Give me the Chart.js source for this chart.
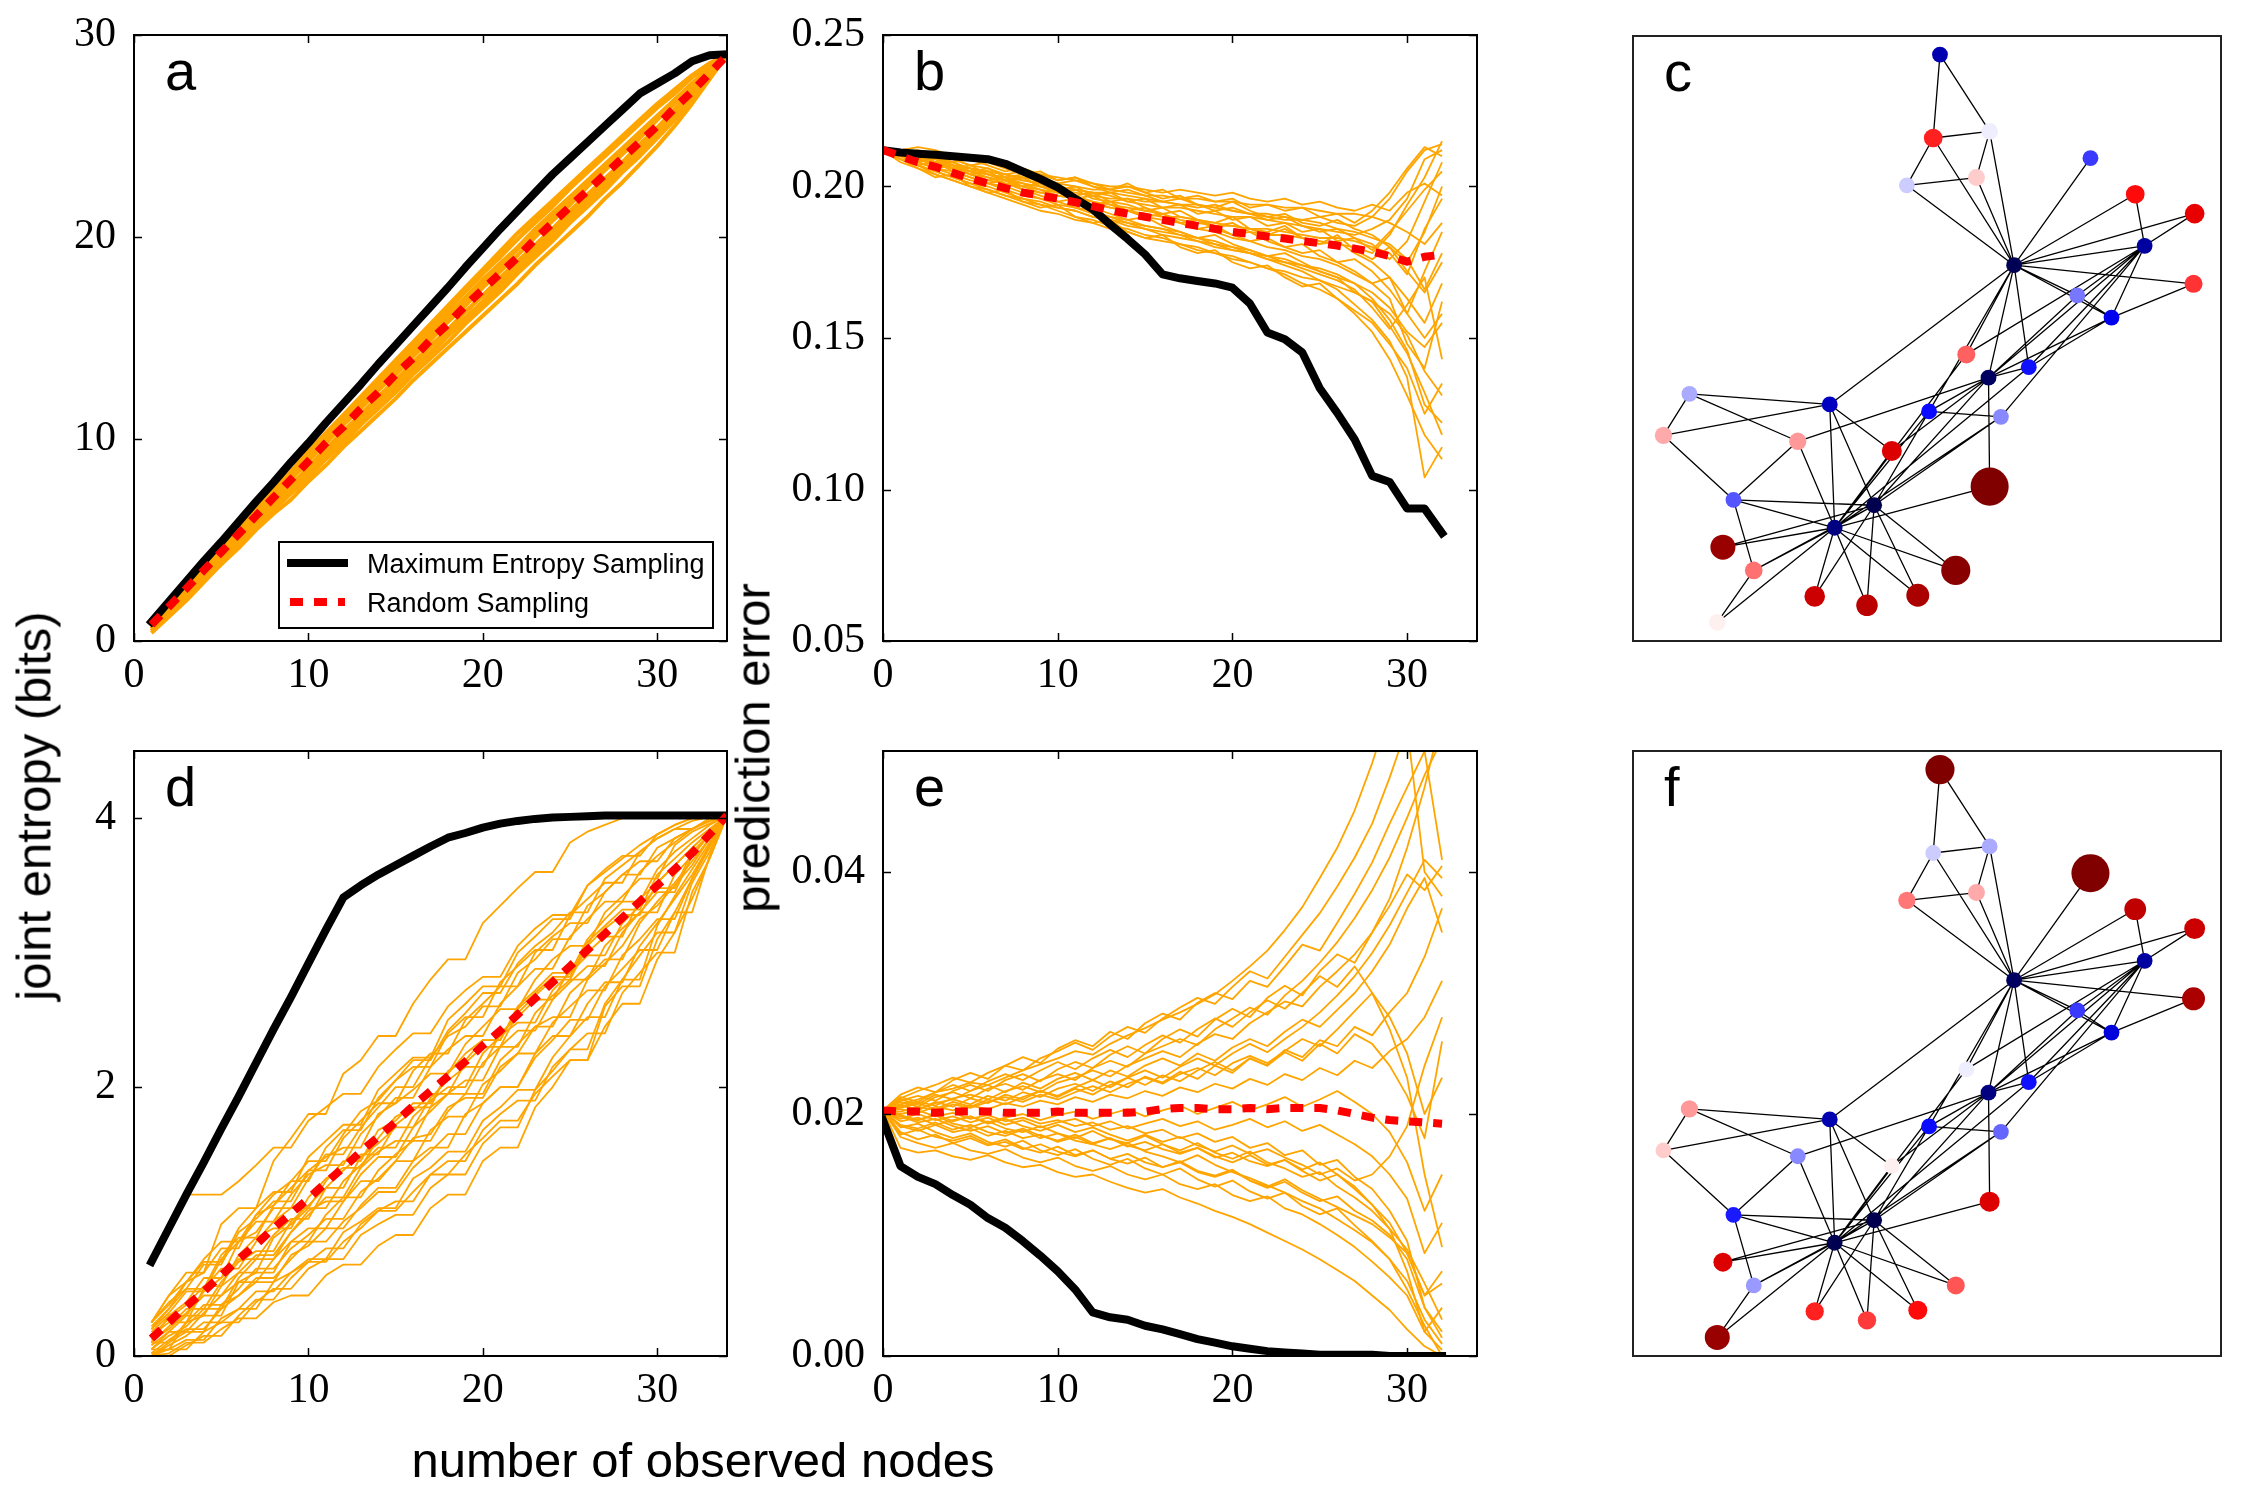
<!DOCTYPE html>
<html>
<head>
<meta charset="utf-8">
<script src="https://cdn.jsdelivr.net/npm/chart.js@4.4.1/dist/chart.umd.min.js"></script>
<style>
  body { margin: 0; background: #fff; }
  #fig { position: relative; width: 2242px; height: 1504px; overflow: hidden; background: #fff; }
  canvas { position: absolute; }
  .lab { position: absolute; font-family: "Liberation Sans", Arial, sans-serif; font-size: 49px; line-height: 49px; white-space: nowrap; color: #000; }
  .rot { transform: translate(-50%, -50%) rotate(-90deg); }
</style>
</head>
<body>
<div id="fig">
  <canvas id="chartA"></canvas>
  <canvas id="chartB"></canvas>
  <canvas id="chartC"></canvas>
  <canvas id="chartD"></canvas>
  <canvas id="chartE"></canvas>
  <canvas id="chartF"></canvas>
  <div class="lab rot" style="left:34px; top:806px;">joint entropy (bits)</div>
  <div class="lab rot" style="left:753px; top:748px;">prediction error</div>
  <div class="lab" style="left:703px; top:1436px; transform: translateX(-50%);">number of observed nodes</div>
</div>
<script>
// ---- data ----
const seriesNames = ["Maximum Entropy Sampling", "Random Sampling"];

const xTicks = [0, 10, 20, 30];
const yTicksA = [0, 10, 20, 30];
const yTicksB = [0.05, 0.10, 0.15, 0.20, 0.25];
const yTicksD = [0, 2, 4];
const yTicksE = [0.00, 0.02, 0.04];

// observed nodes for entropy panels (a, d) and error panels (b, e)
const nodesEntropy = [1,2,3,4,5,6,7,8,9,10,11,12,13,14,15,16,17,18,19,20,21,22,23,24,25,26,27,28,29,30,31,32,33,34];
const nodesError = [0,1,2,3,4,5,6,7,8,9,10,11,12,13,14,15,16,17,18,19,20,21,22,23,24,25,26,27,28,29,30,31,32];

// panel a
const maxEntA = [0.95,1.95,2.95,3.95,4.9,5.9,6.9,7.85,8.85,9.8,10.8,11.75,12.7,13.7,14.65,15.6,16.55,17.5,18.5,19.45,20.4,21.3,22.2,23.1,23.9,24.7,25.5,26.3,27.1,27.6,28.1,28.7,29.0,29.05];
const randMeanA = [0.8,1.7,2.6,3.5,4.4,5.3,6.2,7.1,8.0,8.9,9.8,10.6,11.5,12.3,13.2,14.0,14.9,15.7,16.6,17.4,18.2,19.0,19.9,20.7,21.5,22.3,23.1,23.9,24.7,25.5,26.4,27.2,28.1,29.0];
const randRunsA = [
  [0.9,1.9,2.8,3.8,4.7,5.6,6.6,7.5,8.4,9.4,10.3,11.2,12.1,13.0,13.9,14.8,15.7,16.6,17.5,18.4,19.3,20.2,21.0,21.8,22.6,23.4,24.2,25.0,25.8,26.6,27.3,28.0,28.6,29.0],
  [0.5,1.3,2.1,3.0,3.8,4.6,5.5,6.3,7.0,7.9,8.7,9.6,10.4,11.2,12.0,12.9,13.7,14.5,15.3,16.1,16.9,17.7,18.6,19.4,20.2,21.0,21.9,22.7,23.6,24.5,25.5,26.6,27.8,29.0],
  [0.7,1.6,2.5,3.4,4.3,5.3,6.2,7.1,8.0,8.9,9.8,10.7,11.5,12.4,13.2,14.1,14.9,15.8,16.6,17.5,18.3,19.1,20.0,20.8,21.6,22.5,23.3,24.1,24.9,25.8,26.6,27.4,28.2,29.0],
  [0.8,1.7,2.7,3.6,4.5,5.4,6.4,7.3,8.2,9.1,10.0,10.9,11.8,12.7,13.6,14.4,15.3,16.2,17.0,17.9,18.7,19.5,20.4,21.2,22.0,22.8,23.6,24.4,25.2,26.0,26.8,27.6,28.3,29.0],
  [0.6,1.4,2.3,3.2,4.0,4.9,5.8,6.7,7.5,8.4,9.3,10.1,11.0,11.8,12.7,13.5,14.3,15.2,16.0,16.8,17.6,18.5,19.3,20.1,21.0,21.8,22.6,23.5,24.3,25.2,26.1,27.0,28.0,29.0],
  [0.9,1.8,2.6,3.5,4.5,5.4,6.3,7.2,8.1,9.0,9.9,10.8,11.7,12.6,13.5,14.3,15.2,16.1,17.0,17.8,18.6,19.4,20.3,21.1,21.9,22.7,23.5,24.3,25.1,25.9,26.8,27.6,28.4,29.0],
  [0.4,1.2,2.0,2.9,3.8,4.7,5.6,6.5,7.4,8.2,9.1,10.0,10.8,11.7,12.5,13.4,14.2,15.1,15.9,16.7,17.5,18.4,19.2,20.0,20.8,21.6,22.5,23.3,24.1,25.0,25.9,26.9,27.9,29.0],
  [0.8,1.8,2.7,3.7,4.6,5.5,6.5,7.4,8.3,9.2,10.1,11.0,11.9,12.8,13.7,14.6,15.5,16.4,17.3,18.2,19.0,19.9,20.7,21.5,22.4,23.2,24.0,24.8,25.6,26.4,27.1,27.9,28.5,29.0],
  [0.6,1.5,2.4,3.3,4.2,5.1,6.0,6.9,7.7,8.6,9.5,10.4,11.2,12.1,12.9,13.8,14.6,15.4,16.3,17.1,18.0,18.8,19.6,20.4,21.3,22.1,22.9,23.7,24.6,25.4,26.3,27.2,28.1,29.0],
  [0.7,1.5,2.4,3.3,4.1,5.0,5.9,6.8,7.7,8.6,9.5,10.3,11.2,12.0,12.9,13.7,14.6,15.4,16.3,17.1,17.9,18.7,19.6,20.4,21.2,22.0,22.8,23.6,24.5,25.3,26.2,27.1,28.0,29.0],
  [0.5,1.4,2.2,3.1,4.0,4.8,5.7,6.6,7.4,8.3,9.2,10.0,10.9,11.7,12.6,13.4,14.3,15.1,16.0,16.8,17.7,18.5,19.4,20.2,21.1,21.9,22.8,23.6,24.5,25.4,26.3,27.2,28.1,29.0],
  [0.9,1.8,2.8,3.7,4.6,5.5,6.5,7.4,8.3,9.3,10.2,11.1,12.0,12.9,13.8,14.7,15.6,16.5,17.3,18.2,19.1,19.9,20.8,21.6,22.5,23.3,24.1,24.9,25.7,26.5,27.3,28.0,28.6,29.0],
  [0.6,1.4,2.3,3.1,4.0,4.8,5.6,6.5,7.3,8.1,9.0,9.8,10.7,11.5,12.3,13.2,14.0,14.8,15.7,16.5,17.3,18.2,19.0,19.8,20.7,21.5,22.3,23.2,24.0,24.9,25.8,26.8,27.9,29.0],
  [0.8,1.7,2.6,3.5,4.4,5.3,6.2,7.2,8.1,9.0,9.9,10.8,11.6,12.5,13.4,14.2,15.1,16.0,16.8,17.7,18.5,19.4,20.2,21.0,21.8,22.7,23.5,24.3,25.1,25.9,26.7,27.5,28.3,29.0]
];

// panel b
const maxEntB = [0.212,0.2112,0.2108,0.2105,0.210,0.2095,0.209,0.2075,0.205,0.2025,0.1997,0.196,0.1925,0.1875,0.1827,0.1776,0.171,0.1697,0.1688,0.168,0.1666,0.1614,0.1518,0.1496,0.1452,0.1334,0.1253,0.1165,0.1045,0.1025,0.0937,0.0937,0.0856];
const randMeanB = [0.212,0.210,0.208,0.2065,0.2045,0.2026,0.201,0.1995,0.198,0.197,0.196,0.1948,0.1935,0.1922,0.191,0.190,0.189,0.188,0.187,0.186,0.185,0.1843,0.1835,0.1828,0.182,0.1813,0.1805,0.1795,0.1785,0.177,0.1752,0.1768,0.1775];
const randRunsB = [
  [0.212,0.211,0.210,0.208,0.207,0.205,0.204,0.203,0.201,0.200,0.199,0.198,0.197,0.196,0.196,0.195,0.195,0.194,0.193,0.194,0.192,0.191,0.191,0.190,0.189,0.190,0.188,0.187,0.190,0.196,0.205,0.212,0.214],
  [0.212,0.209,0.207,0.205,0.203,0.201,0.199,0.197,0.195,0.194,0.192,0.190,0.189,0.187,0.186,0.184,0.183,0.181,0.180,0.178,0.176,0.175,0.173,0.171,0.168,0.166,0.163,0.158,0.152,0.143,0.131,0.118,0.110],
  [0.212,0.212,0.213,0.212,0.210,0.209,0.208,0.206,0.205,0.204,0.203,0.202,0.201,0.200,0.200,0.199,0.198,0.199,0.198,0.197,0.198,0.196,0.195,0.196,0.194,0.195,0.193,0.192,0.194,0.192,0.198,0.201,0.197],
  [0.212,0.210,0.208,0.206,0.205,0.203,0.201,0.200,0.198,0.196,0.195,0.193,0.192,0.190,0.189,0.187,0.186,0.185,0.183,0.182,0.180,0.179,0.177,0.176,0.174,0.172,0.170,0.168,0.165,0.160,0.152,0.147,0.155],
  [0.212,0.211,0.209,0.207,0.206,0.204,0.202,0.201,0.199,0.198,0.197,0.196,0.195,0.193,0.192,0.191,0.190,0.190,0.189,0.188,0.187,0.186,0.186,0.185,0.184,0.183,0.183,0.182,0.180,0.178,0.171,0.186,0.196],
  [0.212,0.210,0.207,0.205,0.203,0.201,0.200,0.198,0.196,0.195,0.193,0.192,0.190,0.189,0.188,0.186,0.185,0.184,0.182,0.181,0.179,0.178,0.177,0.175,0.174,0.173,0.171,0.168,0.163,0.156,0.146,0.128,0.122],
  [0.212,0.211,0.210,0.209,0.207,0.206,0.205,0.204,0.202,0.201,0.200,0.199,0.198,0.198,0.197,0.196,0.195,0.194,0.194,0.193,0.192,0.191,0.190,0.189,0.189,0.188,0.186,0.185,0.183,0.181,0.176,0.166,0.178],
  [0.212,0.209,0.207,0.204,0.202,0.200,0.198,0.196,0.194,0.192,0.191,0.189,0.188,0.186,0.185,0.183,0.182,0.181,0.179,0.178,0.177,0.175,0.173,0.172,0.170,0.169,0.167,0.165,0.162,0.158,0.151,0.139,0.131],
  [0.212,0.210,0.209,0.208,0.206,0.205,0.203,0.202,0.201,0.199,0.198,0.197,0.195,0.194,0.193,0.192,0.191,0.189,0.188,0.187,0.187,0.186,0.184,0.184,0.183,0.182,0.181,0.180,0.178,0.184,0.194,0.203,0.215],
  [0.212,0.211,0.210,0.208,0.206,0.204,0.203,0.201,0.200,0.199,0.197,0.196,0.194,0.193,0.192,0.190,0.189,0.188,0.186,0.185,0.183,0.182,0.180,0.179,0.177,0.176,0.174,0.171,0.168,0.163,0.148,0.140,0.162],
  [0.212,0.211,0.209,0.208,0.207,0.206,0.204,0.203,0.202,0.201,0.200,0.199,0.198,0.197,0.195,0.194,0.193,0.193,0.192,0.191,0.190,0.190,0.189,0.188,0.187,0.186,0.185,0.184,0.186,0.189,0.196,0.209,0.212],
  [0.212,0.210,0.208,0.206,0.204,0.202,0.201,0.199,0.197,0.196,0.194,0.193,0.191,0.190,0.188,0.187,0.186,0.184,0.183,0.181,0.180,0.178,0.176,0.174,0.172,0.169,0.166,0.161,0.156,0.149,0.137,0.104,0.114],
  [0.212,0.211,0.210,0.209,0.208,0.206,0.205,0.204,0.203,0.202,0.201,0.200,0.199,0.199,0.198,0.197,0.197,0.196,0.196,0.195,0.195,0.194,0.194,0.193,0.193,0.192,0.191,0.191,0.190,0.188,0.185,0.181,0.188],
  [0.212,0.209,0.206,0.204,0.202,0.200,0.199,0.197,0.196,0.194,0.193,0.192,0.190,0.189,0.187,0.186,0.184,0.183,0.182,0.180,0.179,0.178,0.176,0.175,0.173,0.171,0.169,0.166,0.160,0.153,0.161,0.170,0.143],
  [0.212,0.210,0.211,0.208,0.206,0.207,0.204,0.202,0.203,0.200,0.198,0.199,0.196,0.195,0.196,0.193,0.191,0.192,0.189,0.188,0.190,0.186,0.185,0.187,0.183,0.181,0.184,0.179,0.176,0.180,0.172,0.165,0.175],
  [0.212,0.211,0.209,0.210,0.207,0.205,0.206,0.203,0.204,0.201,0.199,0.200,0.197,0.198,0.195,0.196,0.193,0.194,0.191,0.192,0.189,0.190,0.187,0.188,0.185,0.186,0.182,0.183,0.179,0.185,0.192,0.199,0.205],
  [0.212,0.208,0.206,0.203,0.204,0.200,0.198,0.199,0.195,0.193,0.194,0.190,0.188,0.189,0.185,0.183,0.184,0.180,0.178,0.179,0.175,0.173,0.174,0.170,0.167,0.168,0.163,0.159,0.155,0.148,0.140,0.125,0.135],
  [0.212,0.212,0.210,0.211,0.209,0.207,0.208,0.206,0.204,0.205,0.202,0.203,0.201,0.199,0.200,0.198,0.199,0.196,0.197,0.195,0.196,0.193,0.194,0.192,0.193,0.190,0.191,0.188,0.192,0.198,0.206,0.213,0.210],
  [0.212,0.209,0.208,0.206,0.207,0.204,0.202,0.203,0.200,0.198,0.199,0.196,0.194,0.195,0.192,0.190,0.191,0.188,0.186,0.187,0.184,0.182,0.183,0.180,0.178,0.179,0.175,0.172,0.168,0.170,0.158,0.150,0.158],
  [0.212,0.210,0.208,0.209,0.206,0.204,0.205,0.202,0.200,0.201,0.198,0.196,0.197,0.194,0.192,0.193,0.190,0.188,0.189,0.186,0.184,0.185,0.182,0.180,0.181,0.177,0.175,0.176,0.172,0.166,0.158,0.172,0.185],
  [0.212,0.211,0.212,0.210,0.208,0.209,0.207,0.205,0.206,0.204,0.202,0.203,0.200,0.199,0.201,0.198,0.196,0.197,0.194,0.193,0.195,0.192,0.190,0.191,0.188,0.187,0.189,0.186,0.184,0.180,0.175,0.185,0.200],
  [0.212,0.209,0.207,0.208,0.205,0.203,0.201,0.202,0.199,0.197,0.195,0.196,0.193,0.191,0.189,0.190,0.187,0.185,0.183,0.184,0.181,0.179,0.177,0.178,0.175,0.172,0.170,0.165,0.162,0.154,0.145,0.132,0.118],
  [0.212,0.210,0.209,0.207,0.208,0.205,0.204,0.202,0.203,0.200,0.199,0.197,0.198,0.195,0.194,0.192,0.193,0.190,0.189,0.187,0.188,0.185,0.184,0.186,0.183,0.181,0.182,0.178,0.175,0.170,0.163,0.155,0.168],
  [0.212,0.211,0.210,0.208,0.209,0.207,0.206,0.204,0.205,0.203,0.201,0.202,0.200,0.198,0.199,0.197,0.195,0.196,0.194,0.192,0.193,0.191,0.189,0.190,0.187,0.185,0.186,0.183,0.181,0.176,0.182,0.195,0.208]
];

// panel d
const maxEntD = [0.70,0.95,1.20,1.44,1.69,1.93,2.18,2.43,2.67,2.92,3.17,3.41,3.50,3.58,3.65,3.72,3.79,3.855,3.89,3.93,3.96,3.98,3.995,4.005,4.01,4.015,4.02,4.02,4.02,4.02,4.02,4.02,4.02,4.02];
const randMeanD = [0.13,0.25,0.37,0.48,0.60,0.72,0.83,0.95,1.06,1.17,1.29,1.40,1.52,1.63,1.74,1.86,1.97,2.08,2.19,2.31,2.42,2.54,2.66,2.78,2.90,3.02,3.14,3.26,3.38,3.50,3.62,3.74,3.88,4.02];
const randRunsD = [
  [0.25,0.45,0.62,0.62,0.98,1.10,1.10,1.45,1.62,1.80,1.80,2.10,2.20,2.38,2.38,2.62,2.80,2.95,2.95,3.22,3.35,3.48,3.60,3.60,3.82,3.90,3.95,4.00,4.01,4.02,4.02,4.02,4.02,4.02],
  [0.00,0.02,0.10,0.10,0.20,0.28,0.28,0.40,0.45,0.45,0.60,0.68,0.68,0.82,0.90,0.90,1.10,1.20,1.20,1.45,1.55,1.55,1.85,2.00,2.20,2.20,2.60,2.75,2.75,3.10,3.30,3.30,3.72,4.02],
  [0.10,0.30,0.40,0.58,0.58,0.85,0.92,1.10,1.10,1.32,1.50,1.50,1.70,1.85,2.00,2.00,2.22,2.38,2.45,2.60,2.60,2.85,2.95,3.10,3.10,3.35,3.45,3.58,3.58,3.78,3.85,3.92,3.98,4.02],
  [0.05,0.05,0.25,0.30,0.30,0.55,0.62,0.62,0.85,0.95,0.95,1.15,1.30,1.30,1.45,1.62,1.65,1.85,1.92,1.92,2.15,2.25,2.45,2.52,2.52,2.80,2.92,3.05,3.25,3.35,3.50,3.65,3.85,4.02],
  [0.20,0.35,0.55,0.62,0.80,0.80,1.05,1.12,1.30,1.45,1.45,1.65,1.82,1.90,2.05,2.20,2.20,2.42,2.55,2.70,2.70,2.92,3.05,3.15,3.30,3.30,3.55,3.65,3.75,3.85,3.92,3.92,4.00,4.02],
  [0.00,0.10,0.18,0.18,0.38,0.45,0.55,0.55,0.75,0.82,0.95,0.95,1.12,1.25,1.25,1.45,1.55,1.55,1.80,1.88,2.00,2.00,2.25,2.38,2.38,2.62,2.78,2.78,3.05,3.22,3.40,3.58,3.80,4.02],
  [0.15,0.25,0.25,0.50,0.65,0.65,0.85,1.00,1.10,1.10,1.30,1.45,1.45,1.68,1.75,1.88,1.88,2.10,2.25,2.35,2.35,2.60,2.72,2.85,2.85,3.10,3.25,3.38,3.38,3.62,3.75,3.85,3.95,4.02],
  [0.05,0.15,0.22,0.35,0.35,0.58,0.72,0.72,0.92,1.05,1.18,1.18,1.40,1.52,1.60,1.60,1.85,1.95,2.05,2.05,2.30,2.42,2.42,2.65,2.78,2.90,2.90,3.15,3.30,3.45,3.45,3.72,3.88,4.02],
  [0.25,0.40,0.50,0.68,0.68,0.92,1.02,1.15,1.15,1.38,1.48,1.55,1.55,1.80,1.88,1.98,2.10,2.10,2.32,2.45,2.58,2.58,2.80,2.95,3.05,3.05,3.30,3.42,3.55,3.55,3.80,3.90,3.96,4.02],
  [0.02,0.05,0.12,0.12,0.28,0.35,0.35,0.55,0.62,0.72,0.72,0.92,1.00,1.10,1.10,1.32,1.40,1.52,1.52,1.75,1.85,1.98,1.98,2.22,2.38,2.52,2.52,2.80,2.98,3.15,3.15,3.52,3.75,4.02],
  [0.10,0.22,0.35,0.35,0.55,0.70,0.78,0.78,1.00,1.12,1.25,1.25,1.48,1.58,1.70,1.70,1.92,2.05,2.15,2.15,2.40,2.52,2.65,2.65,2.88,3.00,3.12,3.12,3.40,3.52,3.65,3.78,3.90,4.02],
  [0.70,0.95,1.20,1.20,1.20,1.30,1.42,1.55,1.55,1.75,1.85,1.95,1.95,2.15,2.28,2.40,2.40,2.60,2.72,2.82,2.82,3.05,3.18,3.28,3.28,3.50,3.60,3.70,3.80,3.88,3.95,4.00,4.01,4.02],
  [0.00,0.05,0.05,0.18,0.25,0.25,0.40,0.50,0.50,0.65,0.72,0.72,0.90,0.98,1.05,1.05,1.25,1.35,1.35,1.58,1.70,1.70,1.98,2.12,2.28,2.28,2.62,2.80,2.80,3.20,3.42,3.62,3.82,4.02],
  [0.20,0.32,0.48,0.48,0.72,0.85,1.00,1.00,1.20,1.35,1.42,1.42,1.65,1.78,1.92,1.92,2.15,2.28,2.38,2.38,2.62,2.75,2.88,2.88,3.12,3.25,3.38,3.38,3.60,3.72,3.82,3.92,3.98,4.02],
  [0.08,0.18,0.30,0.30,0.52,0.62,0.62,0.88,0.98,1.10,1.10,1.30,1.42,1.55,1.55,1.78,1.90,2.00,2.00,2.25,2.38,2.48,2.48,2.72,2.85,2.98,2.98,3.22,3.35,3.48,3.48,3.75,3.88,4.02],
  [0.15,0.28,0.38,0.52,0.52,0.75,0.88,0.95,0.95,1.18,1.32,1.40,1.40,1.62,1.78,1.85,1.85,2.12,2.20,2.35,2.35,2.58,2.70,2.82,2.82,3.08,3.20,3.32,3.32,3.58,3.70,3.82,3.92,4.02],
  [0.00,0.00,0.08,0.15,0.15,0.30,0.42,0.42,0.58,0.70,0.70,0.85,0.95,1.08,1.08,1.22,1.35,1.35,1.50,1.62,1.75,1.75,1.95,2.08,2.20,2.20,2.45,2.62,2.62,2.95,3.15,3.40,3.70,4.02],
  [0.25,0.38,0.55,0.70,0.70,0.95,1.10,1.22,1.22,1.48,1.60,1.72,1.72,1.98,2.10,2.22,2.22,2.50,2.62,2.75,2.75,3.00,3.12,3.25,3.25,3.50,3.62,3.72,3.72,3.88,3.95,4.00,4.02,4.02],
  [0.05,0.18,0.18,0.32,0.45,0.55,0.55,0.72,0.85,0.85,1.05,1.18,1.18,1.38,1.50,1.60,1.60,1.82,1.95,1.95,2.20,2.32,2.45,2.45,2.70,2.82,2.95,2.95,3.22,3.38,3.52,3.68,3.85,4.02],
  [0.12,0.20,0.32,0.45,0.45,0.62,0.75,0.75,0.92,1.08,1.15,1.15,1.35,1.48,1.48,1.70,1.82,1.95,1.95,2.18,2.30,2.30,2.55,2.68,2.80,2.80,3.05,3.18,3.30,3.30,3.58,3.72,3.88,4.02],
  [0.00,0.08,0.15,0.25,0.25,0.35,0.48,0.48,0.62,0.70,0.80,0.80,0.98,1.08,1.15,1.15,1.35,1.45,1.45,1.68,1.80,1.90,1.90,2.15,2.28,2.40,2.40,2.70,2.85,3.00,3.00,3.45,3.70,4.02],
  [0.22,0.35,0.50,0.50,0.75,0.88,0.88,1.12,1.25,1.38,1.38,1.62,1.75,1.88,1.88,2.12,2.25,2.25,2.50,2.62,2.75,2.75,3.00,3.12,3.22,3.22,3.45,3.58,3.68,3.68,3.85,3.92,3.98,4.02],
  [0.10,0.10,0.25,0.38,0.38,0.50,0.65,0.65,0.80,0.90,1.02,1.02,1.22,1.32,1.45,1.45,1.68,1.78,1.78,2.02,2.12,2.25,2.25,2.48,2.60,2.72,2.72,2.98,3.10,3.25,3.25,3.55,3.78,4.02],
  [0.18,0.30,0.30,0.48,0.58,0.72,0.72,0.90,1.02,1.02,1.25,1.38,1.50,1.50,1.72,1.82,1.95,1.95,2.18,2.30,2.30,2.55,2.68,2.80,2.80,3.05,3.18,3.28,3.28,3.52,3.65,3.78,3.90,4.02],
  [0.02,0.12,0.20,0.20,0.35,0.45,0.58,0.58,0.72,0.85,0.85,1.00,1.10,1.22,1.22,1.40,1.52,1.65,1.65,1.88,2.00,2.00,2.22,2.35,2.50,2.50,2.75,2.88,3.02,3.02,3.30,3.55,3.80,4.02],
  [0.25,0.45,0.55,0.72,0.85,0.85,1.05,1.20,1.30,1.30,1.55,1.68,1.68,1.92,2.05,2.15,2.15,2.40,2.52,2.52,2.78,2.90,3.02,3.02,3.28,3.40,3.52,3.52,3.75,3.85,3.92,3.98,4.01,4.02]
];

// panel e
const maxEntE = [0.0195,0.0157,0.0148,0.0142,0.0133,0.0125,0.0114,0.0106,0.0095,0.0083,0.0070,0.0055,0.0036,0.0032,0.0030,0.0025,0.0022,0.0018,0.0014,0.0011,0.0008,0.0006,0.0004,0.0003,0.0002,0.0001,0.0001,0.0001,0.0001,0.0000,0.0000,0.0000,0.0000];
const randMeanE = [0.0203,0.0202,0.0202,0.0201,0.0202,0.0202,0.0202,0.0201,0.0201,0.0201,0.0202,0.0201,0.0201,0.0201,0.0201,0.0202,0.0204,0.0205,0.0205,0.0204,0.0204,0.0205,0.0204,0.0205,0.0205,0.0205,0.0203,0.0200,0.0197,0.0195,0.0194,0.0193,0.0192];
const randRunsE = [
  [0.0203,0.0208,0.0212,0.0218,0.0221,0.0226,0.0224,0.0230,0.0236,0.0241,0.0246,0.0252,0.0249,0.0258,0.0265,0.0271,0.0278,0.0284,0.0291,0.0299,0.0310,0.0322,0.0335,0.0352,0.0371,0.0395,0.0420,0.0451,0.0490,0.0535,0.0580,0.0560,0.0600],
  [0.0203,0.0172,0.0168,0.0170,0.0165,0.0162,0.0166,0.0160,0.0156,0.0158,0.0152,0.0148,0.0150,0.0144,0.0139,0.0135,0.0138,0.0131,0.0126,0.0120,0.0115,0.0109,0.0102,0.0095,0.0088,0.0080,0.0071,0.0062,0.0050,0.0038,0.0022,0.0008,0.0000],
  [0.0203,0.0206,0.0210,0.0207,0.0213,0.0216,0.0212,0.0219,0.0223,0.0218,0.0226,0.0230,0.0236,0.0231,0.0240,0.0246,0.0252,0.0247,0.0258,0.0266,0.0262,0.0275,0.0284,0.0293,0.0289,0.0305,0.0318,0.0332,0.0350,0.0372,0.0398,0.0385,0.0405],
  [0.0203,0.0198,0.0195,0.0199,0.0192,0.0189,0.0194,0.0188,0.0185,0.0190,0.0184,0.0180,0.0186,0.0179,0.0176,0.0182,0.0175,0.0170,0.0176,0.0168,0.0163,0.0169,0.0160,0.0155,0.0148,0.0152,0.0140,0.0131,0.0120,0.0105,0.0088,0.0060,0.0030],
  [0.0203,0.0210,0.0206,0.0214,0.0218,0.0213,0.0221,0.0225,0.0220,0.0228,0.0233,0.0228,0.0238,0.0244,0.0239,0.0250,0.0256,0.0262,0.0257,0.0270,0.0279,0.0288,0.0282,0.0298,0.0310,0.0325,0.0342,0.0362,0.0385,0.0412,0.0445,0.0480,0.0510],
  [0.0203,0.0190,0.0186,0.0191,0.0185,0.0188,0.0182,0.0186,0.0180,0.0183,0.0177,0.0181,0.0175,0.0171,0.0176,0.0169,0.0165,0.0160,0.0166,0.0158,0.0152,0.0147,0.0141,0.0135,0.0128,0.0122,0.0113,0.0104,0.0094,0.0080,0.0062,0.0030,0.0010],
  [0.0203,0.0204,0.0201,0.0206,0.0203,0.0207,0.0204,0.0209,0.0206,0.0211,0.0208,0.0214,0.0210,0.0216,0.0213,0.0219,0.0215,0.0222,0.0218,0.0225,0.0221,0.0229,0.0224,0.0233,0.0228,0.0238,0.0232,0.0244,0.0238,0.0252,0.0262,0.0280,0.0310],
  [0.0203,0.0200,0.0203,0.0198,0.0201,0.0196,0.0199,0.0194,0.0197,0.0192,0.0195,0.0190,0.0193,0.0187,0.0190,0.0184,0.0187,0.0180,0.0184,0.0177,0.0181,0.0172,0.0176,0.0166,0.0170,0.0158,0.0162,0.0148,0.0138,0.0120,0.0095,0.0040,0.0020],
  [0.0203,0.0213,0.0219,0.0224,0.0230,0.0226,0.0234,0.0240,0.0236,0.0246,0.0252,0.0259,0.0253,0.0264,0.0272,0.0267,0.0279,0.0288,0.0296,0.0291,0.0305,0.0318,0.0312,0.0330,0.0348,0.0366,0.0388,0.0412,0.0440,0.0478,0.0520,0.0400,0.0380],
  [0.0203,0.0185,0.0179,0.0183,0.0176,0.0180,0.0174,0.0177,0.0171,0.0175,0.0169,0.0165,0.0170,0.0163,0.0167,0.0160,0.0156,0.0161,0.0153,0.0149,0.0154,0.0145,0.0140,0.0146,0.0137,0.0130,0.0123,0.0116,0.0109,0.0098,0.0085,0.0050,0.0060],
  [0.0203,0.0207,0.0204,0.0209,0.0212,0.0208,0.0215,0.0211,0.0218,0.0214,0.0221,0.0225,0.0219,0.0227,0.0222,0.0231,0.0226,0.0235,0.0229,0.0240,0.0234,0.0246,0.0240,0.0253,0.0247,0.0261,0.0256,0.0272,0.0265,0.0284,0.0300,0.0330,0.0370],
  [0.0203,0.0194,0.0197,0.0191,0.0195,0.0198,0.0193,0.0197,0.0200,0.0195,0.0199,0.0202,0.0196,0.0200,0.0204,0.0198,0.0203,0.0207,0.0200,0.0205,0.0210,0.0203,0.0208,0.0214,0.0206,0.0212,0.0219,0.0210,0.0200,0.0185,0.0160,0.0120,0.0150],
  [0.0203,0.0216,0.0222,0.0218,0.0228,0.0234,0.0229,0.0240,0.0247,0.0242,0.0254,0.0261,0.0256,0.0268,0.0262,0.0275,0.0283,0.0278,0.0292,0.0300,0.0295,0.0310,0.0305,0.0322,0.0340,0.0335,0.0358,0.0382,0.0408,0.0440,0.0470,0.0500,0.0410],
  [0.0203,0.0181,0.0176,0.0172,0.0176,0.0170,0.0167,0.0171,0.0164,0.0160,0.0164,0.0157,0.0153,0.0157,0.0150,0.0146,0.0150,0.0142,0.0138,0.0142,0.0133,0.0128,0.0132,0.0122,0.0117,0.0109,0.0100,0.0090,0.0078,0.0065,0.0050,0.0020,0.0040],
  [0.0203,0.0202,0.0206,0.0203,0.0208,0.0205,0.0210,0.0214,0.0210,0.0216,0.0212,0.0218,0.0223,0.0218,0.0225,0.0230,0.0225,0.0233,0.0238,0.0232,0.0242,0.0248,0.0242,0.0252,0.0262,0.0256,0.0270,0.0285,0.0300,0.0280,0.0250,0.0200,0.0230],
  [0.0203,0.0198,0.0193,0.0196,0.0190,0.0186,0.0190,0.0184,0.0188,0.0182,0.0178,0.0183,0.0176,0.0180,0.0174,0.0170,0.0175,0.0168,0.0172,0.0165,0.0160,0.0166,0.0158,0.0162,0.0154,0.0160,0.0150,0.0140,0.0125,0.0105,0.0070,0.0020,0.0005],
  [0.0203,0.0211,0.0215,0.0211,0.0219,0.0224,0.0219,0.0228,0.0233,0.0227,0.0237,0.0243,0.0238,0.0249,0.0256,0.0250,0.0262,0.0270,0.0264,0.0278,0.0287,0.0280,0.0296,0.0306,0.0298,0.0318,0.0332,0.0325,0.0350,0.0378,0.0420,0.0470,0.0530],
  [0.0203,0.0189,0.0192,0.0185,0.0180,0.0184,0.0177,0.0173,0.0178,0.0170,0.0166,0.0171,0.0163,0.0158,0.0163,0.0155,0.0150,0.0155,0.0146,0.0140,0.0145,0.0136,0.0130,0.0135,0.0124,0.0117,0.0122,0.0108,0.0095,0.0080,0.0055,0.0025,0.0000],
  [0.0203,0.0205,0.0209,0.0204,0.0210,0.0206,0.0212,0.0208,0.0214,0.0219,0.0214,0.0221,0.0216,0.0224,0.0230,0.0224,0.0232,0.0227,0.0236,0.0243,0.0236,0.0246,0.0240,0.0251,0.0244,0.0258,0.0250,0.0266,0.0258,0.0240,0.0215,0.0180,0.0260],
  [0.0203,0.0196,0.0200,0.0195,0.0198,0.0193,0.0197,0.0191,0.0195,0.0189,0.0193,0.0196,0.0190,0.0194,0.0188,0.0192,0.0196,0.0190,0.0194,0.0187,0.0191,0.0196,0.0189,0.0194,0.0186,0.0191,0.0183,0.0175,0.0165,0.0150,0.0130,0.0085,0.0110],
  [0.0203,0.0214,0.0210,0.0218,0.0224,0.0219,0.0227,0.0233,0.0228,0.0236,0.0243,0.0237,0.0246,0.0253,0.0247,0.0257,0.0265,0.0259,0.0270,0.0279,0.0272,0.0284,0.0294,0.0287,0.0300,0.0314,0.0305,0.0322,0.0300,0.0270,0.0230,0.0150,0.0090],
  [0.0203,0.0183,0.0187,0.0181,0.0178,0.0182,0.0175,0.0179,0.0172,0.0168,0.0173,0.0166,0.0170,0.0163,0.0159,0.0164,0.0156,0.0160,0.0152,0.0148,0.0153,0.0145,0.0139,0.0144,0.0135,0.0128,0.0132,0.0120,0.0112,0.0100,0.0080,0.0040,0.0015],
  [0.0203,0.0208,0.0203,0.0210,0.0206,0.0213,0.0209,0.0216,0.0212,0.0219,0.0215,0.0222,0.0228,0.0222,0.0230,0.0236,0.0230,0.0239,0.0246,0.0240,0.0250,0.0258,0.0251,0.0262,0.0272,0.0284,0.0298,0.0314,0.0333,0.0356,0.0383,0.0410,0.0395],
  [0.0203,0.0199,0.0195,0.0200,0.0194,0.0198,0.0192,0.0196,0.0190,0.0186,0.0191,0.0185,0.0189,0.0183,0.0178,0.0183,0.0177,0.0181,0.0174,0.0169,0.0174,0.0167,0.0171,0.0164,0.0158,0.0150,0.0155,0.0145,0.0150,0.0165,0.0190,0.0240,0.0280],
  [0.0203,0.0212,0.0208,0.0216,0.0212,0.0219,0.0224,0.0218,0.0226,0.0221,0.0229,0.0234,0.0228,0.0236,0.0231,0.0240,0.0246,0.0240,0.0250,0.0244,0.0255,0.0262,0.0256,0.0268,0.0278,0.0272,0.0286,0.0300,0.0318,0.0340,0.0370,0.0395,0.0350],
  [0.0203,0.0191,0.0188,0.0193,0.0187,0.0191,0.0185,0.0182,0.0187,0.0180,0.0184,0.0178,0.0175,0.0180,0.0173,0.0177,0.0171,0.0167,0.0172,0.0164,0.0168,0.0161,0.0157,0.0162,0.0153,0.0145,0.0150,0.0138,0.0125,0.0110,0.0085,0.0050,0.0070]
];

// network panels (c, f): karate club graph, nodes 1..34
const nodeX = [1013,1360,945,1272,913,798,948,1181,787,948,728,1216,1490,1052,239,858,816,1335,483,886,622,1493,757,267,150,81,224,438,688,321,978,523,641,536];
const nodeY = [591,541,881,726,365,263,246,669,968,1162,385,315,639,854,1318,1378,48,408,1445,821,1468,458,1442,1196,923,1030,1512,1045,1070,1378,982,950,1210,1268];
const edges = [
  [1,2],[1,3],[1,4],[1,5],[1,6],[1,7],[1,8],[1,9],[1,11],[1,12],[1,13],[1,14],[1,18],[1,20],[1,22],[1,32],
  [2,3],[2,4],[2,8],[2,14],[2,18],[2,20],[2,22],[2,31],
  [3,4],[3,8],[3,9],[3,10],[3,14],[3,28],[3,29],[3,33],
  [4,8],[4,13],[4,14],[5,7],[5,11],[6,7],[6,11],[6,17],[7,17],
  [9,31],[9,33],[9,34],[10,34],[14,34],[15,33],[15,34],[16,33],[16,34],
  [19,33],[19,34],[20,34],[21,33],[21,34],[23,33],[23,34],
  [24,26],[24,28],[24,30],[24,33],[24,34],[25,26],[25,28],[25,32],[26,32],
  [27,30],[27,34],[28,34],[29,32],[29,34],[30,33],[30,34],[31,33],[31,34],[32,33],[32,34],[33,34]
];
// colour value on the seismic scale (0 = dark blue, 0.5 = white, 1 = dark red)
const nodeValueC = [0.01,0.117,0.027,0.226,0.55,0.719,0.483,0.367,0.26,1.0,0.45,0.307,0.70,0.266,0.95,0.983,0.139,0.74,0.85,0.656,0.883,0.795,0.917,0.333,0.417,0.583,0.515,0.60,0.817,0.64,0.383,0.162,0.004,0.072];
const nodeWeightC = [1,1,1,1,1.15,1.4,1.1,1,1,5.8,1,1,1.3,1,2.5,3.4,1,1.4,1.7,1.3,1.85,1.55,2.1,1,1,1.2,1.1,1.2,1.6,1.25,1,1,1,1];
const nodeValueF = [0.027,0.117,0.072,0.2025,0.583,0.45,0.417,0.307,0.26,0.817,0.633,1.0,0.917,0.266,0.817,0.667,1.0,0.874,0.719,0.483,0.693,0.85,0.74,0.275,0.60,0.55,0.95,0.383,0.515,0.40,0.35,0.139,0.004,0.005];
const nodeWeightF = [1,1,1,1,1.15,1,1,1,1,1.6,1.2,5.8,2.1,1,1.45,1.3,3.4,1.9,1.35,1,1.35,1.75,1.45,1,1.2,1,2.5,1,1,1,1,1,1,1];

// ---- styling / layout ----
const ORANGE = "#FFA500";
const RED = "#FF0000";
const TICK_FONT = { family: '"Liberation Serif", "DejaVu Serif", serif', size: 42 };
const SANS = '"Liberation Sans", Arial, sans-serif';

function seismic(s) {
  const stops = [[0, 0, 0.3], [0, 0, 1], [1, 1, 1], [1, 0, 0], [0.5, 0, 0]];
  const t = Math.max(0, Math.min(1, s)) * 4;
  const i = Math.min(3, Math.floor(t));
  const f = t - i;
  const c = stops[i].map((v, k) => Math.round(255 * (v + (stops[i + 1][k] - v) * f)));
  return "rgb(" + c.join(",") + ")";
}

function place(id, left, top, w, h) {
  const cv = document.getElementById(id);
  cv.width = w; cv.height = h;
  cv.style.left = left + "px"; cv.style.top = top + "px";
  cv.style.width = w + "px"; cv.style.height = h + "px";
  return cv;
}

const decorPlugin = {
  id: "decor",
  afterDraw(chart, args, opts) {
    const { ctx, chartArea: ca } = chart;
    ctx.save();
    if (opts.legend) {
      const bx = ca.left + 145, by = ca.top + 507, bw = 434, bh = 86;
      ctx.fillStyle = "#fff";
      ctx.fillRect(bx, by, bw, bh);
      ctx.lineWidth = 2; ctx.strokeStyle = "#000";
      ctx.strokeRect(bx, by, bw, bh);
      ctx.lineWidth = 8; ctx.lineCap = "butt";
      ctx.beginPath(); ctx.moveTo(bx + 8, by + 21); ctx.lineTo(bx + 69, by + 21); ctx.stroke();
      ctx.strokeStyle = RED; ctx.setLineDash([13, 11]);
      ctx.beginPath(); ctx.moveTo(bx + 11, by + 60); ctx.lineTo(bx + 66, by + 60); ctx.stroke();
      ctx.setLineDash([]);
      ctx.fillStyle = "#000"; ctx.font = "27px " + SANS; ctx.textBaseline = "alphabetic";
      ctx.fillText(seriesNames[0], bx + 88, by + 31);
      ctx.fillText(seriesNames[1], bx + 88, by + 70);
    }
    if (opts.ticks) {
      const xs = chart.scales.x, ys = chart.scales.y;
      ctx.strokeStyle = "#000"; ctx.lineWidth = 1.5;
      ctx.beginPath();
      xs.ticks.forEach(t => {
        const px = Math.round(xs.getPixelForValue(t.value)) + 0.5;
        ctx.moveTo(px, ca.bottom); ctx.lineTo(px, ca.bottom - 8);
        ctx.moveTo(px, ca.top); ctx.lineTo(px, ca.top + 8);
      });
      ys.ticks.forEach(t => {
        const py = Math.round(ys.getPixelForValue(t.value)) + 0.5;
        ctx.moveTo(ca.left, py); ctx.lineTo(ca.left + 8, py);
        ctx.moveTo(ca.right, py); ctx.lineTo(ca.right - 8, py);
      });
      ctx.stroke();
    }
    ctx.strokeStyle = opts.frameColor || "#000";
    ctx.lineWidth = 2;
    ctx.strokeRect(ca.left, ca.top, ca.right - ca.left, ca.bottom - ca.top);
    if (opts.letter) {
      ctx.fillStyle = "#000"; ctx.font = "56px " + SANS; ctx.textBaseline = "alphabetic";
      ctx.fillText(opts.letter, ca.left + 31, ca.top + 55);
    }
    ctx.restore();
  }
};

const edgePlugin = {
  id: "edges",
  beforeDatasetsDraw(chart) {
    const { ctx } = chart;
    const xs = chart.scales.x, ys = chart.scales.y;
    ctx.save();
    ctx.strokeStyle = "#000"; ctx.lineWidth = 1.3;
    ctx.beginPath();
    edges.forEach(([a, b]) => {
      ctx.moveTo(xs.getPixelForValue(nodeX[a - 1]), ys.getPixelForValue(nodeY[a - 1]));
      ctx.lineTo(xs.getPixelForValue(nodeX[b - 1]), ys.getPixelForValue(nodeY[b - 1]));
    });
    ctx.stroke();
    ctx.restore();
  }
};

function pts(xs, ys) { return xs.map((x, i) => ({ x: x, y: ys[i] })); }

// plot boxes [left, top, right, bottom] in page pixels
const L = 134, T = 35, R = 20, B = 80;

function linePanel(id, box, cfg) {
  const [pl, pt, pr, pb] = box;
  const w = (pr - pl) + L + R, h = (pb - pt) + T + B;
  const cv = place(id, pl - L, pt - T, w, h);
  const datasets = [];
  datasets.push({ label: seriesNames[1], data: pts(cfg.x, cfg.mean), borderColor: RED, borderWidth: 8,
    borderDash: [13, 11], borderCapStyle: "butt", order: 0 });
  datasets.push({ label: seriesNames[0], data: pts(cfg.x, cfg.maxEnt), borderColor: "#000", borderWidth: 8,
    borderCapStyle: "square", order: 1 });
  cfg.runs.forEach(run => datasets.push({ data: pts(cfg.x, run), borderColor: ORANGE,
    borderWidth: cfg.runWidth, order: 2 }));
  return new Chart(cv, {
    type: "line",
    data: { datasets },
    options: {
      responsive: false, animation: false, devicePixelRatio: 1,
      layout: { autoPadding: false, padding: { top: T, right: R, left: 0, bottom: 0 } },
      elements: { point: { radius: 0 }, line: { tension: 0, borderJoinStyle: "round", fill: false } },
      plugins: { legend: { display: false }, tooltip: { enabled: false },
        decor: { letter: cfg.letter, legend: !!cfg.legend, ticks: true } },
      scales: {
        x: { type: "linear", min: 0, max: 34,
          grid: { display: false, drawTicks: false }, border: { display: false },
          ticks: { font: TICK_FONT, color: "#000", padding: 10, maxRotation: 0, autoSkip: false,
            callback: v => String(v) },
          afterBuildTicks: s => { s.ticks = xTicks.map(v => ({ value: v })); },
          afterFit: s => { s.height = B; s.paddingLeft = 0; s.paddingRight = 0; } },
        y: { type: "linear", min: cfg.ymin, max: cfg.ymax,
          grid: { display: false, drawTicks: false }, border: { display: false },
          ticks: { font: TICK_FONT, color: "#000", padding: 18, autoSkip: false,
            callback: v => Number(v).toFixed(cfg.dec) },
          afterBuildTicks: s => { s.ticks = cfg.yTicks.map(v => ({ value: v })); },
          afterFit: s => { s.width = L; s.paddingTop = 0; s.paddingBottom = 0; } }
      }
    },
    plugins: [decorPlugin]
  });
}

function netPanel(id, box, values, weights, letter) {
  const [pl, pt, pr, pb] = box;
  const P = 4;
  const cv = place(id, pl - P, pt - P, (pr - pl) + 2 * P, (pb - pt) + 2 * P);
  return new Chart(cv, {
    type: "scatter",
    data: { datasets: [{ data: pts(nodeX, nodeY),
      pointRadius: weights.map(w => 7.9 * Math.sqrt(w)),
      pointBackgroundColor: values.map(seismic),
      pointBorderWidth: 0, clip: false }] },
    options: {
      responsive: false, animation: false, devicePixelRatio: 1,
      layout: { autoPadding: false, padding: P },
      plugins: { legend: { display: false }, tooltip: { enabled: false },
        decor: { letter: letter, frameColor: "#222" } },
      scales: {
        x: { type: "linear", min: 0, max: 1563, display: false },
        y: { type: "linear", min: 0, max: 1560, reverse: true, display: false }
      }
    },
    plugins: [edgePlugin, decorPlugin]
  });
}

linePanel("chartA", [134, 35, 727, 641], { x: nodesEntropy, maxEnt: maxEntA, mean: randMeanA, runs: randRunsA,
  runWidth: 4, ymin: 0, ymax: 30, yTicks: yTicksA, dec: 0, letter: "a", legend: true });
linePanel("chartB", [883, 35, 1477, 641], { x: nodesError, maxEnt: maxEntB, mean: randMeanB, runs: randRunsB,
  runWidth: 1.8, ymin: 0.05, ymax: 0.25, yTicks: yTicksB, dec: 2, letter: "b" });
linePanel("chartD", [134, 751, 727, 1356], { x: nodesEntropy, maxEnt: maxEntD, mean: randMeanD, runs: randRunsD,
  runWidth: 1.8, ymin: 0, ymax: 4.5, yTicks: yTicksD, dec: 0, letter: "d" });
linePanel("chartE", [883, 751, 1477, 1356], { x: nodesError, maxEnt: maxEntE, mean: randMeanE, runs: randRunsE,
  runWidth: 1.8, ymin: 0, ymax: 0.05, yTicks: yTicksE, dec: 2, letter: "e" });
netPanel("chartC", [1633, 36, 2221, 641], nodeValueC, nodeWeightC, "c");
netPanel("chartF", [1633, 751, 2221, 1356], nodeValueF, nodeWeightF, "f");
</script>
</body>
</html>
